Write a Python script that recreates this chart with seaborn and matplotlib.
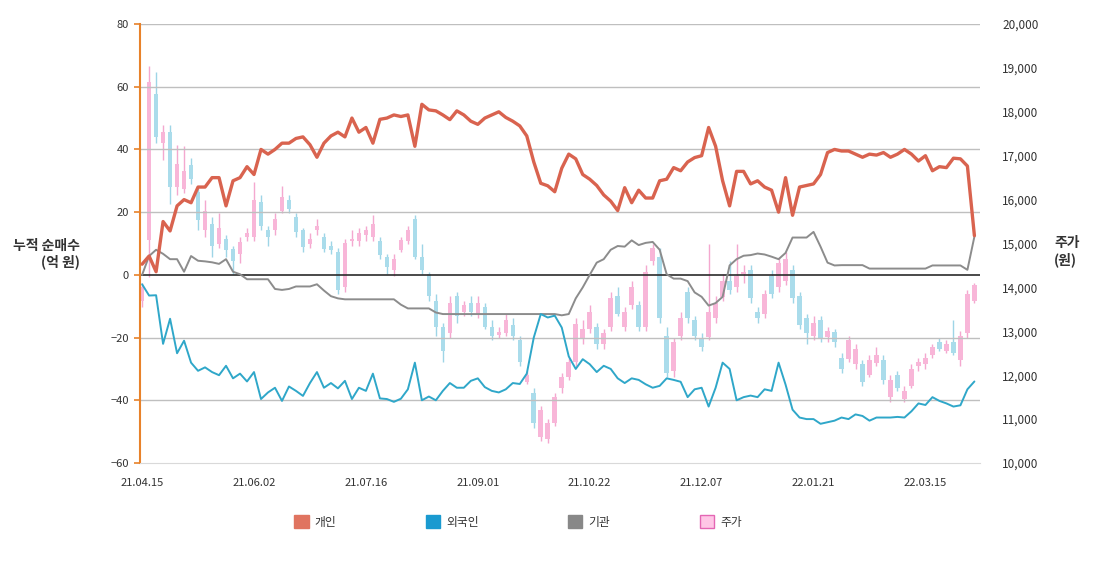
import numpy as np
import pandas as pd
import seaborn as sns
import matplotlib
matplotlib.use('Agg')
import matplotlib.pyplot as plt
from matplotlib.patches import Patch

sns.set_style('white')
plt.rcParams['font.family'] = ['Noto Sans CJK KR', 'DejaVu Sans']

#%% data  (one point every 2 trading days, day 0 = 21.04.15)

tick_days = [0, 32, 64, 96, 128, 160, 192, 224]
tick_labels = ['21.04.15', '21.06.02', '21.07.16', '21.09.01',
               '21.10.22', '21.12.07', '22.01.21', '22.03.15']

# cumulative net buying (억 원)
retail = [3.4, 6, 1, 17, 14, 22, 24, 23, 28, 28,
          31, 31, 22, 30, 31, 34.5, 32, 40, 38.5, 40,
          42, 42, 43.5, 44, 41.5, 37.5, 42, 44.3, 45.5, 44,
          50, 45.5, 47, 42, 49.6, 50, 51, 50.5, 51, 41,
          54.4, 52.6, 52.3, 51, 49.5, 52.3, 51, 49, 48, 50,
          51, 52, 50.2, 49, 47.5, 44.3, 36, 29.2, 28.4, 26.5,
          34, 38.5, 37, 32, 30.5, 28.5, 25.5, 23.5, 20.5, 27.8,
          23, 27, 24.5, 24.5, 30, 30.5, 34.2, 33.2, 36, 37.4,
          38, 47, 41, 30, 22, 33, 33, 29, 30, 28,
          27, 20, 31, 19, 28, 28.5, 29, 32, 39, 40,
          39.5, 39.5, 38.5, 37.5, 38.5, 38.2, 39, 37.5, 38.5, 40,
          38.5, 36.3, 38, 33.2, 34.5, 34.2, 37.2, 37, 34.7, 12.5]

foreign = [-3, -6.6, -6.5, -22, -14, -25, -21, -28, -30.6, -29.5,
           -31, -32, -29, -33, -31.5, -34, -31, -39.6, -37.5, -36,
           -40.2, -35.6, -37, -38.6, -34.5, -31, -36, -34.5, -36.2, -33.8,
           -39.6, -36, -37, -31.5, -39.4, -39.6, -40.5, -39.5, -36.5, -28,
           -40, -38.8, -40, -37, -34.5, -36, -36, -33.8, -33, -35.8,
           -37, -37.5, -36.5, -34.5, -34.8, -31.5, -20, -12.5, -13.6, -13,
           -16.8, -26, -30, -26.9, -28.5, -31, -29, -30, -33, -34.5,
           -33, -33.5, -34.9, -36, -35.4, -33, -33.5, -34.1, -39, -36.5,
           -36, -42, -36, -28, -30, -40, -39, -38.5, -39, -36.5,
           -37, -28, -35, -43, -45.5, -46, -46, -47.5, -47, -46.5,
           -45.5, -46, -44.5, -45, -46.5, -45.5, -45.5, -45.5, -45.3, -45.5,
           -43.5, -41, -41.5, -39, -40.2, -41, -42, -41.6, -36.5, -34]

institution = [0, 6, 8, 6.7, 5, 5, 1, 6, 4.5, 4.3,
               4, 3.5, 5, 1, 0.2, -1.4, -1.4, -1.4, -1.4, -4.5,
               -4.8, -4.5, -3.7, -3.7, -3.7, -3, -5, -6.8, -7.5, -7.8,
               -7.8, -7.8, -7.8, -7.8, -7.8, -7.8, -7.8, -9.5, -10.7, -10.7,
               -10.7, -10.7, -12, -12.5, -12.5, -12.5, -12.5, -12.5, -12.5, -12.5,
               -12.5, -12.5, -12.5, -12.5, -12.5, -12.5, -12.5, -12.5, -12.5, -12.5,
               -12.9, -12.5, -7.5, -4, 0, 3.9, 5, 8, 9.2, 9,
               11, 9.5, 10.2, 10.5, 8, 0.2, -1.2, -1.2, -2, -5.6,
               -7, -9.8, -9, -7, 3, 5, 6.1, 6.3, 6.8, 6.5,
               5.8, 5, 7, 11.9, 11.9, 11.9, 13.7, 9, 3.9, 3,
               3.1, 3.1, 3.1, 3.1, 2, 2, 2, 2, 2, 2,
               2, 2, 2, 3, 3, 3, 3, 3, 1.6, 12.2]

# share price (원)
price_open = [13700, 15070, 18400, 17300, 17550, 16280, 16250, 16780, 16170, 15300,
              15450, 15000, 15100, 14880, 14750, 15150, 15150, 15950, 15300, 15300,
              15750, 15980, 15600, 15300, 15000, 15300, 15150, 14950, 14800, 14000,
              15050, 15050, 15200, 15150, 15050, 14700, 14400, 14850, 15050, 15550,
              14700, 14300, 13700, 13100, 12950, 13800, 13450, 13650, 13400, 13550,
              13100, 12920, 12950, 13150, 12800, 11850, 11600, 10600, 10550, 10900,
              11700, 11950, 12300, 12850, 13050, 13100, 12700, 13100, 13800, 13100,
              13600, 13600, 13100, 14600, 14700, 12900, 12100, 12900, 13900, 13250,
              12850, 12870, 13300, 13780, 14150, 14000, 14300, 14400, 13450, 13400,
              14270, 14000, 14150, 14400, 13800, 13300, 12900, 13250, 12870, 12980,
              12400, 12380, 12250, 12250, 12000, 12270, 12350, 11500, 12000, 11450,
              11750, 12200, 12250, 12450, 12750, 12550, 12750, 12350, 12950, 13700]
price_close = [14000, 18680, 17420, 17550, 16280, 16800, 16650, 16470, 15530, 15750,
               14950, 15350, 14850, 14600, 15030, 15250, 16000, 15400, 15150, 15560,
               16050, 15780, 15260, 14920, 15100, 15400, 14880, 14850, 13950, 15000,
               15100, 15250, 15300, 15450, 14730, 14460, 14650, 15070, 15300, 14700,
               14400, 13800, 13100, 12550, 13650, 13350, 13600, 13450, 13650, 13100,
               12900, 12980, 13250, 12900, 12300, 12000, 10900, 11200, 10900, 11500,
               11950, 12300, 13170, 13050, 13450, 12700, 12950, 13750, 13400, 13450,
               14000, 13100, 14350, 14900, 13300, 12050, 12750, 13300, 13300, 12900,
               12650, 13450, 13650, 14150, 13950, 14250, 14350, 13750, 13300, 13850,
               13850, 14550, 14650, 13750, 13150, 12950, 13200, 12850, 13000, 12750,
               12150, 12800, 12600, 11850, 12350, 12450, 11900, 11900, 11700, 11650,
               12150, 12300, 12400, 12650, 12600, 12700, 12500, 12900, 13850, 14050]
price_high = [14100, 19050, 18900, 17700, 17700, 17250, 17230, 16950, 16300, 16000,
              15600, 15700, 15200, 14950, 15150, 15350, 16400, 16100, 15400, 15700,
              16300, 16100, 15700, 15350, 15250, 15550, 15250, 15050, 14900, 15100,
              15300, 15350, 15400, 15650, 15150, 14750, 14750, 15150, 15400, 15650,
              15000, 14350, 13850, 13200, 13800, 13900, 13700, 13800, 13800, 13650,
              13250, 13100, 13400, 13300, 12900, 12100, 11700, 11300, 11000, 11600,
              12050, 12400, 13300, 13250, 13600, 13200, 13050, 13900, 14000, 13550,
              14150, 13700, 14500, 15000, 14900, 13100, 12850, 13450, 14000, 13350,
              12950, 15000, 13800, 14300, 14600, 15000, 14500, 14500, 13550, 13950,
              14400, 14700, 14800, 14500, 13900, 13400, 13350, 13350, 13100, 13050,
              12500, 12900, 12700, 12350, 12450, 12650, 12450, 12000, 12100, 11750,
              12250, 12400, 12500, 12700, 12850, 12800, 13250, 13000, 13950, 14100]
price_low = [13550, 14230, 17300, 16900, 15900, 16100, 16150, 16350, 15300, 15150,
             14700, 14900, 14700, 14300, 14550, 15050, 15050, 15300, 14950, 15200,
             15700, 15700, 15150, 14800, 14900, 15200, 14800, 14750, 13850, 13900,
             14950, 14950, 15050, 15050, 14650, 14300, 14250, 14800, 15000, 14650,
             14300, 13700, 12900, 12300, 12850, 13200, 13350, 13350, 13300, 13050,
             12800, 12850, 12900, 12800, 12200, 11800, 10800, 10500, 10450, 10850,
             11600, 11900, 12200, 12700, 12950, 12600, 12600, 13000, 13350, 13000,
             13500, 13000, 13000, 14500, 13200, 11950, 11950, 12800, 13200, 12800,
             12550, 12800, 13200, 13700, 13850, 13900, 14100, 13650, 13200, 13300,
             13750, 13900, 14050, 13650, 13050, 12700, 12800, 12750, 12750, 12650,
             12050, 12300, 12150, 11750, 11950, 12200, 11800, 11400, 11650, 11400,
             11700, 12100, 12150, 12400, 12550, 12500, 12450, 12200, 12850, 13650]

days = np.arange(0, 2 * len(retail), 2)

df = pd.DataFrame({'day': days, '개인': retail, '외국인': foreign, '기관': institution,
                   'open': price_open, 'close': price_close,
                   'high': price_high, 'low': price_low})

#%% figure

fig = plt.figure(figsize=(11, 5.67), dpi=100)
ax = fig.add_axes([140 / 1100, 1 - 463 / 567, 840 / 1100, 439 / 567])
ax2 = ax.twinx()

# candles on the price axis
up = df['close'] >= df['open']
body_col = np.where(up, '#F8B6D8', '#AADCEB')
wick_col = np.where(up, '#F4A8CF', '#9ED5E6')
ax2.vlines(df['day'], df['low'], df['high'], colors=wick_col, lw=1, zorder=2)
ax2.bar(df['day'], (df['close'] - df['open']).abs(),
        bottom=df[['open', 'close']].min(axis=1), width=1.3,
        color=body_col, edgecolor='none', zorder=3)

# lines drawn above the candles
ax.set_zorder(ax2.get_zorder() + 1)
ax.patch.set_visible(False)

for v in [80, 60, 40, 20, -20, -40]:
    ax.axhline(v, color='#BFBFBF', lw=1, zorder=0)
ax.axhline(0, color='#2B2B2B', lw=1.2, zorder=1)

sns.lineplot(data=df, x='day', y='기관', ax=ax, color='#8C8C8C', lw=1.4, zorder=4)
sns.lineplot(data=df, x='day', y='외국인', ax=ax, color='#2FA7C9', lw=1.4, zorder=5)
sns.lineplot(data=df, x='day', y='개인', ax=ax, color='#D9634F', lw=2.4, zorder=6)

ax.set_xlim(-0.6, 239.6)
ax.set_ylim(-60, 80)
ax.set_yticks(range(-60, 81, 20))
ax.set_xticks(tick_days)
ax.set_xticklabels(tick_labels)
ax.set_xlabel('')
ax.set_ylabel('')

ax2.set_ylim(10000, 20000)
ax2.set_yticks(range(10000, 20001, 1000))
ax2.set_yticklabels([f'{v:,}' for v in range(10000, 20001, 1000)])

for s in ['top', 'right']:
    ax.spines[s].set_visible(False)
ax.spines['left'].set_color('#E8822A')
ax.spines['left'].set_linewidth(1.5)
ax.spines['bottom'].set_color('#D9D9D9')
for s in ax2.spines.values():
    s.set_visible(False)

ax.tick_params(axis='y', colors='#E8822A', length=4, width=1.2, pad=4,
               labelsize=8, labelcolor='#333333')
ax.tick_params(axis='x', colors='#D0D0D0', length=4, width=1, pad=7,
               labelsize=8, labelcolor='#333333')
ax2.tick_params(axis='y', length=0, pad=16, labelsize=8.5, labelcolor='#333333')

fig.text(80 / 1100, 1 - 254 / 567, '누적 순매수\n(억 원)', ha='right', va='center',
         multialignment='right', fontsize=10, fontweight='bold', color='#333333',
         linespacing=1.2)
fig.text(1054 / 1100, 1 - 252 / 567, '주가\n(원)', ha='left', va='center',
         fontsize=10, fontweight='bold', color='#333333', linespacing=1.2)

handles = [Patch(facecolor='#E07460', edgecolor='#E07460', label='개인'),
           Patch(facecolor='#1A9AD0', edgecolor='#1A9AD0', label='외국인'),
           Patch(facecolor='#888888', edgecolor='#888888', label='기관'),
           Patch(facecolor='#FFC6E6', edgecolor='#E466B4', label='주가')]
fig.legend(handles=handles, loc='center', bbox_to_anchor=(518 / 1100, 1 - 522 / 567),
           ncol=4, frameon=False, fontsize=8.5, handlelength=1.2, handleheight=1.2,
           handletextpad=0.5, columnspacing=7.6, labelcolor='#333333')

fig.savefig('out.png', dpi=100)
